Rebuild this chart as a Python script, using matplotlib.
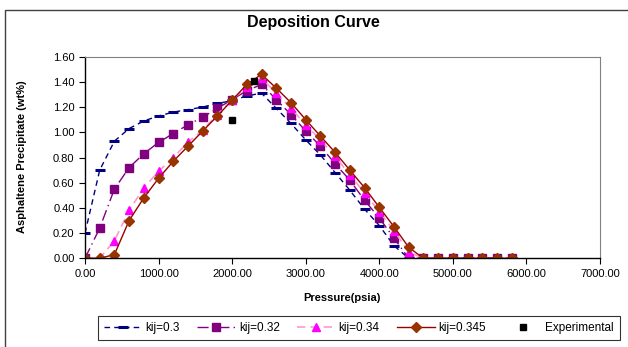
import matplotlib
matplotlib.use("Agg")
import matplotlib.pyplot as plt
from matplotlib.patches import Rectangle

# Dane
pressure = [0, 200, 400, 600, 800, 1000, 1200, 1400, 1600, 1800, 2000, 2200, 2400,
            2600, 2800, 3000, 3200, 3400, 3600, 3800, 4000, 4200, 4400,
            4600, 4800, 5000, 5200, 5400, 5600, 5800]

kij_030 = [0.20, 0.70, 0.93, 1.03, 1.09, 1.13, 1.16, 1.18, 1.20, 1.23, 1.25, 1.29, 1.31,
           1.19, 1.07, 0.94, 0.82, 0.68, 0.54, 0.39, 0.26, 0.10, 0.0,
           0, 0, 0, 0, 0, 0, 0]
kij_032 = [0.0, 0.24, 0.55, 0.72, 0.83, 0.92, 0.99, 1.06, 1.12, 1.19, 1.26, 1.33, 1.38,
           1.26, 1.14, 1.01, 0.89, 0.75, 0.62, 0.46, 0.32, 0.16, 0.0,
           0, 0, 0, 0, 0, 0, 0]
kij_034 = [0.0, 0.0, 0.14, 0.38, 0.56, 0.69, 0.80, 0.92, 1.02, 1.14, 1.26, 1.36, 1.43,
           1.31, 1.19, 1.06, 0.94, 0.81, 0.66, 0.52, 0.37, 0.22, 0.05,
           0, 0, 0, 0, 0, 0, 0]
kij_0345 = [0.0, 0.0, 0.03, 0.30, 0.48, 0.635, 0.77, 0.89, 1.01, 1.13, 1.255, 1.38, 1.46,
            1.35, 1.235, 1.10, 0.97, 0.84, 0.70, 0.56, 0.405, 0.25, 0.087,
            0, 0, 0, 0, 0, 0, 0]

exp_pressure = [2000, 2300]
exp_value = [1.10, 1.41]

x_ticks = [0, 1000, 2000, 3000, 4000, 5000, 6000, 7000]
y_ticks = [0.0, 0.2, 0.4, 0.6, 0.8, 1.0, 1.2, 1.4, 1.6]

plt.rcParams['font.family'] = ['Liberation Sans', 'DejaVu Sans']

fig = plt.figure(figsize=(6.28, 3.47), dpi=100)
W, H = 628, 347
ax = fig.add_axes([85 / W, 1 - 258.3 / H, 515 / W, 201.6 / H])

# Ramka wykresu (obszar wykresu Excela)
fig.patches.append(Rectangle((5 / W, 0 - 0.01), 1.0, 1 - 10 / H + 0.01,
                             transform=fig.transFigure, fill=False,
                             edgecolor='#404040', linewidth=1.0))

ax.plot(pressure, kij_030, linestyle=(0, (4, 3)), color='#000080', linewidth=1.0,
        marker='_', markersize=7, markeredgewidth=2.2, label='kij=0.3')
ax.plot(pressure, kij_032, linestyle=(0, (8, 3, 1, 3)), color='#800080', linewidth=1.0,
        marker='s', markersize=5.5, label='kij=0.32')
ax.plot(pressure, kij_034, linestyle=(0, (5, 3)), color='#FF99CC', linewidth=1.2,
        marker='^', markersize=6, markerfacecolor='#FF00FF', markeredgecolor='#FF00FF',
        label='kij=0.34')
ax.plot(pressure, kij_0345, linestyle='-', color='#990000', linewidth=1.0,
        marker='D', markersize=4.8, markerfacecolor='#993300', markeredgecolor='#993300',
        label='kij=0.345')
ax.plot(exp_pressure, exp_value, linestyle='none', marker='s', markersize=5,
        color='black', label='Experimental')

ax.set_xlim(0, 7000)
ax.set_ylim(0, 1.6)
ax.set_xticks(x_ticks)
ax.set_xticklabels(['%.2f' % v for v in x_ticks])
ax.set_yticks(y_ticks)
ax.set_yticklabels(['%.2f' % v for v in y_ticks])
ax.tick_params(axis='both', labelsize=8, direction='out', length=4, width=0.8)

for side in ['top', 'right']:
    ax.spines[side].set_color('#808080')
    ax.spines[side].set_linewidth(0.8)
for side in ['left', 'bottom']:
    ax.spines[side].set_color('black')
    ax.spines[side].set_linewidth(1.0)

fig.text(313 / W, 1 - 22 / H, 'Deposition Curve', ha='center', va='center',
         fontsize=11.5, fontweight='bold')
fig.text(342 / W, 1 - 298 / H, 'Pressure(psia)', ha='center', va='center',
         fontsize=8, fontweight='bold')
fig.text(22 / W, 1 - 157 / H, 'Asphaltene Precipitate (wt%)', ha='center', va='center',
         fontsize=8, fontweight='bold', rotation=90)

leg = fig.legend(loc='center', bbox_to_anchor=(359 / W, 1 - 328 / H), ncol=5,
                 fontsize=8.5, frameon=True, fancybox=False, edgecolor='black',
                 handlelength=3.2, columnspacing=1.5, handletextpad=0.3,
                 borderpad=0.5)
leg.get_frame().set_linewidth(0.8)

fig.savefig('out.png', dpi=100)
